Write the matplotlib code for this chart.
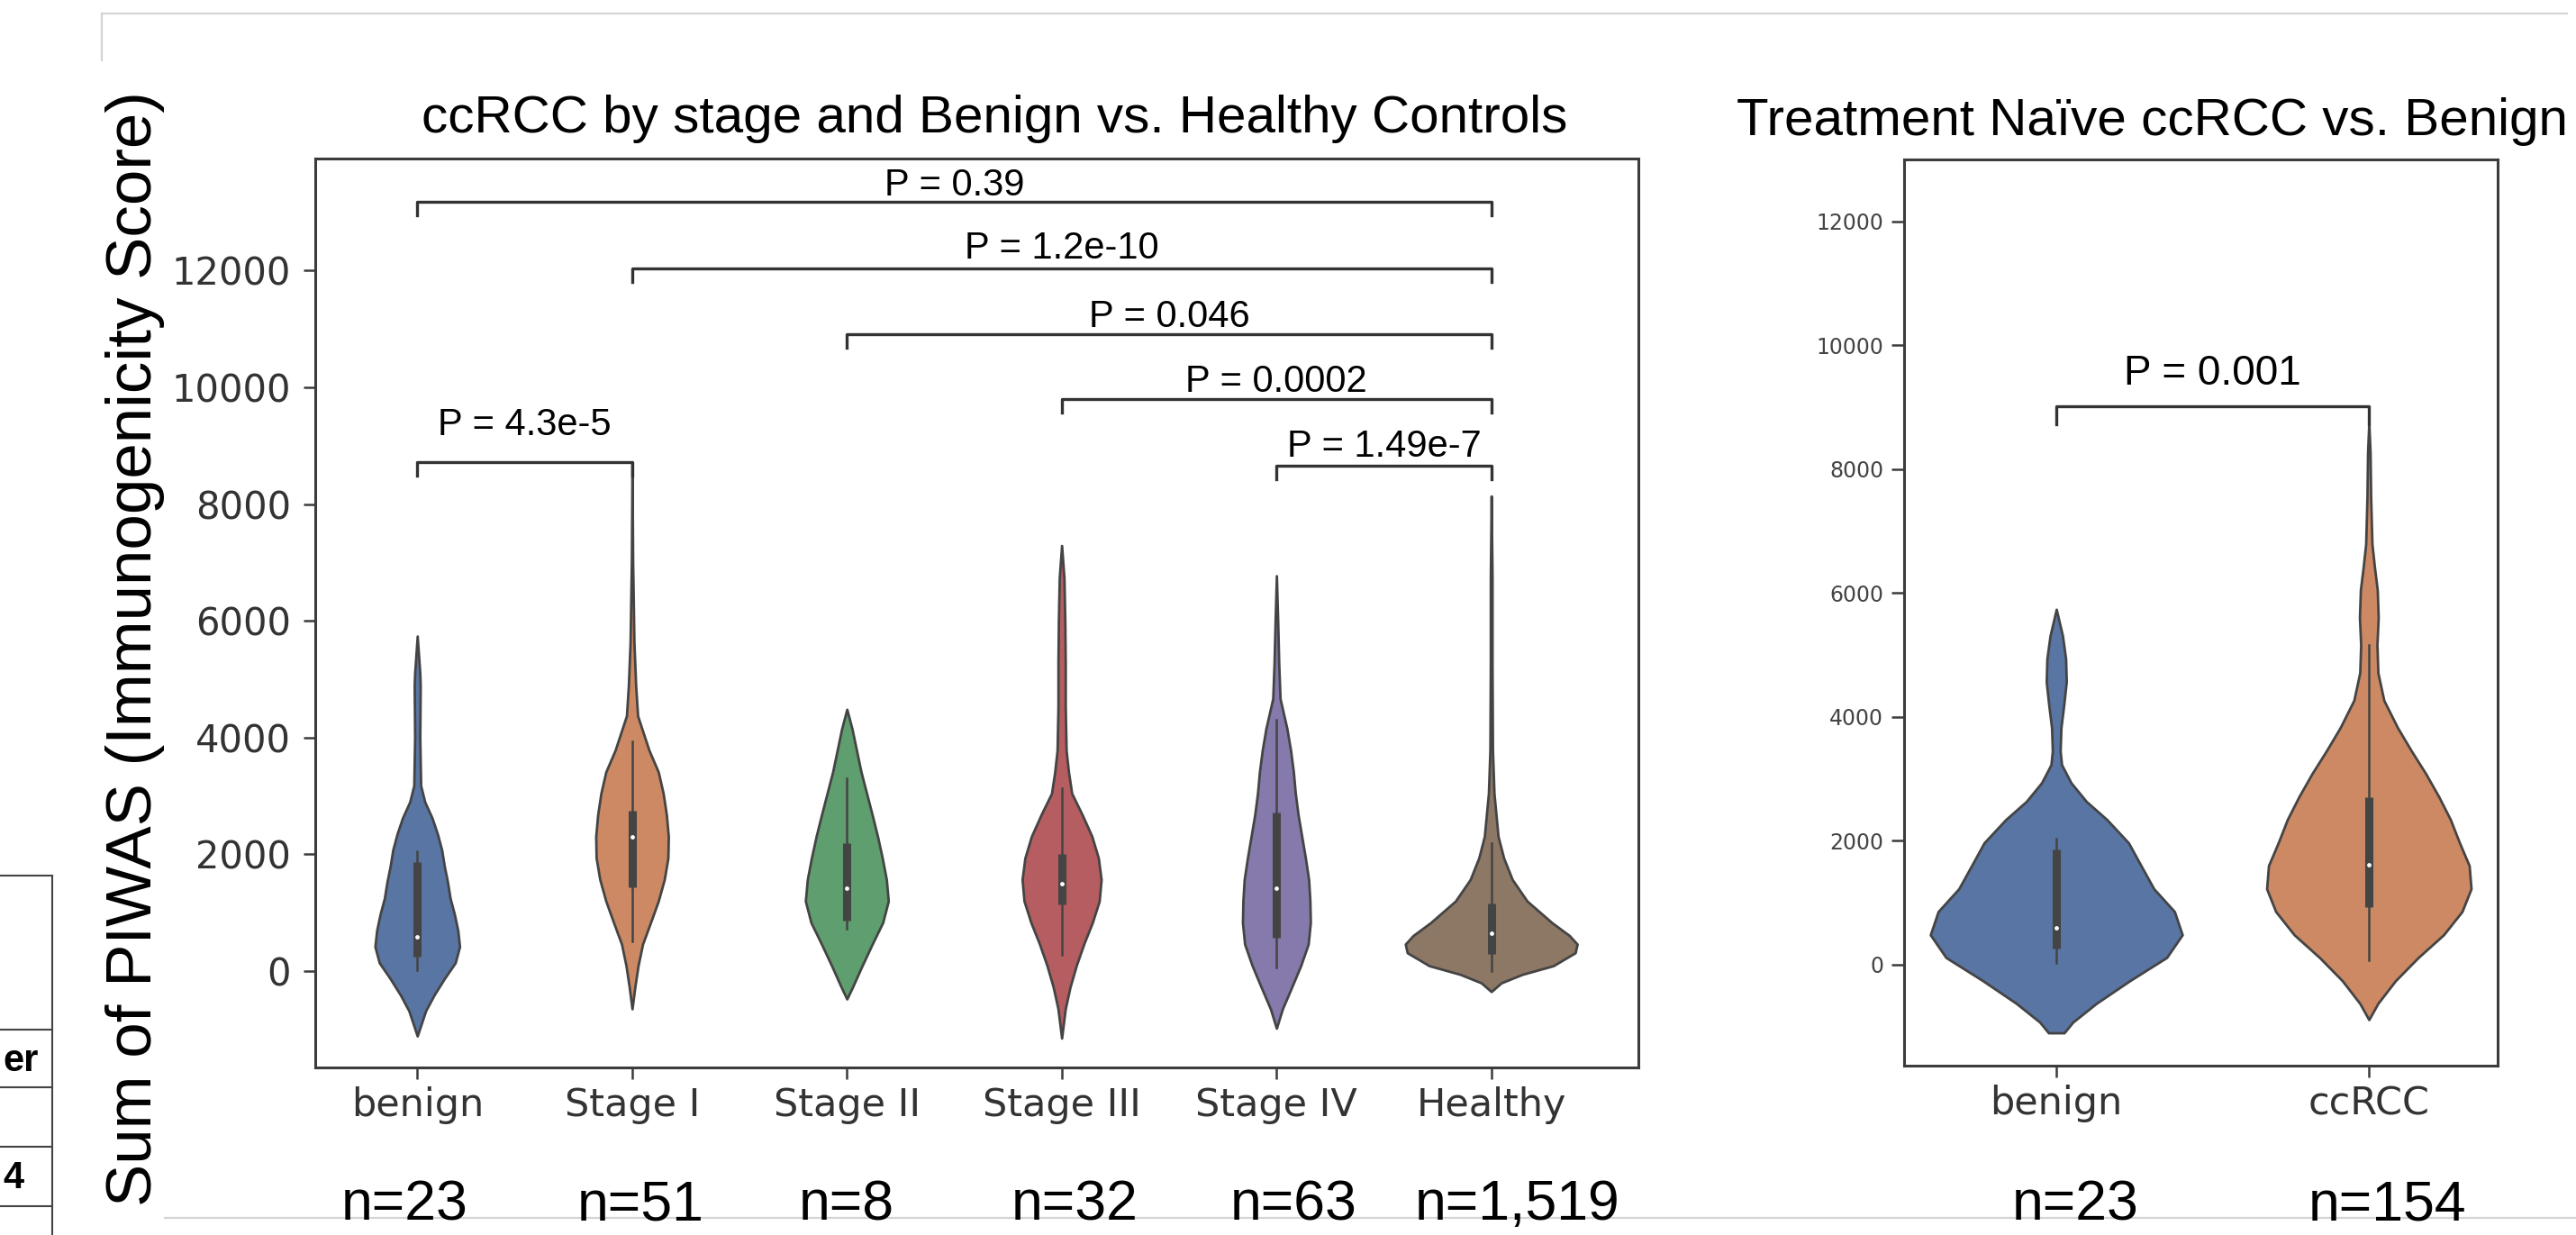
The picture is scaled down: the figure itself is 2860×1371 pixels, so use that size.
import matplotlib
matplotlib.use("Agg")
import matplotlib.pyplot as plt
from matplotlib.lines import Line2D
from matplotlib.transforms import blended_transform_factory
import numpy as np

# ----------------------
# DATA
# ----------------------
stage_groups = ["benign", "Stage I", "Stage II", "Stage III", "Stage IV", "Healthy"]
stage_n = ["n=23", "n=51", "n=8", "n=32", "n=63", "n=1,519"]
stage_colors = ["#5975a4", "#cc8963", "#5f9e6e", "#b55d60", "#857aab", "#8d7866"]

# violin outlines: (score, half width in category units)
benign_profile = [(5740, 0), (5107, 0.012), (4890, 0.014), (4003, 0.012), (3179, 0.016),
                  (2900, 0.035), (2623, 0.069), (2350, 0.094), (2074, 0.114), (1799, 0.126),
                  (1525, 0.141), (1250, 0.153), (974, 0.173), (694, 0.189), (421, 0.197),
                  (145, 0.177), (-129, 0.126), (-405, 0.079), (-680, 0.039), (-956, 0.014),
                  (-1111, 0)]
stage1_profile = [(8700, 0), (7000, 0.003), (5632, 0.009), (4891, 0.017), (4374, 0.026),
                  (3783, 0.079), (3414, 0.122), (3046, 0.145), (2677, 0.160), (2307, 0.169),
                  (1938, 0.167), (1569, 0.150), (1200, 0.122), (832, 0.086), (463, 0.049),
                  (93, 0.028), (-276, 0.013), (-646, 0)]
stage2_profile = [(4486, 0), (4153, 0.024), (3783, 0.045), (3414, 0.066), (3046, 0.092),
                  (2677, 0.118), (2307, 0.143), (1938, 0.165), (1569, 0.184), (1200, 0.193),
                  (832, 0.167), (463, 0.118), (93, 0.071), (-276, 0.026), (-477, 0)]
stage3_profile = [(7291, 0), (6737, 0.011), (5999, 0.015), (5261, 0.017), (4521, 0.017),
                  (3783, 0.021), (3414, 0.032), (3046, 0.047), (2677, 0.096), (2307, 0.141),
                  (1938, 0.171), (1569, 0.184), (1200, 0.175), (832, 0.143), (463, 0.103),
                  (93, 0.068), (-276, 0.039), (-646, 0.017), (-1148, 0)]
stage4_profile = [(6774, 0), (5999, 0.006), (5261, 0.011), (4670, 0.017), (4153, 0.049),
                  (3783, 0.066), (3414, 0.079), (3046, 0.088), (2677, 0.101), (2307, 0.118),
                  (1938, 0.135), (1569, 0.150), (1200, 0.156), (832, 0.158), (463, 0.148),
                  (93, 0.113), (-276, 0.071), (-646, 0.028), (-978, 0)]
healthy_profile = [(8140, 0), (6737, 0.004), (5261, 0.004), (3783, 0.006), (3046, 0.013),
                   (2307, 0.032), (1938, 0.058), (1569, 0.098), (1200, 0.167), (832, 0.282),
                   (609, 0.364), (463, 0.400), (315, 0.391), (93, 0.289), (-55, 0.145),
                   (-200, 0.047), (-350, 0)]
stage_profiles = [benign_profile, stage1_profile, stage2_profile,
                  stage3_profile, stage4_profile, healthy_profile]

# inner box: whisker low, q1, median, q3, whisker high
stage_whisk_lo = [18, 514, 721, 278, 56, 0]
stage_q1 = [255, 1435, 858, 1142, 571, 299]
stage_median = [586, 2307, 1421, 1497, 1421, 648]
stage_q3 = [1864, 2750, 2198, 2012, 2716, 1163]
stage_whisk_hi = [2052, 3935, 3305, 3134, 4310, 2197]

# significance brackets
stage_pairs = [(0, 5), (1, 5), (2, 5), (3, 5), (4, 5), (0, 1)]
stage_pvals = ["P = 0.39", "P = 1.2e-10", "P = 0.046", "P = 0.0002", "P = 1.49e-7", "P = 4.3e-5"]
stage_bracket_y = [13177, 12031, 10914, 9793, 8660, 8722]
stage_text_gap = [113, 179, 118, 128, 155, 460]

# right panel
tn_groups = ["benign", "ccRCC"]
tn_n = ["n=23", "n=154"]
tn_colors = ["#5975a4", "#cc8963"]
tn_benign_profile = [(5738, 0), (5309, 0.020), (4937, 0.030), (4567, 0.032), (4194, 0.024),
                     (3825, 0.015), (3452, 0.0125), (3229, 0.017), (2938, 0.047), (2636, 0.096),
                     (2342, 0.162), (1968, 0.231), (1600, 0.271), (1226, 0.312), (858, 0.378),
                     (483, 0.403), (116, 0.353), (-259, 0.235), (-625, 0.128), (-927, 0.053),
                     (-1100, 0.025), (-1100, 0)]
tn_ccrcc_profile = [(8750, 0), (8276, 0.004), (7534, 0.006), (6793, 0.010), (6420, 0.018),
                    (6050, 0.027), (5604, 0.030), (5164, 0.026), (4713, 0.029), (4268, 0.048),
                    (3825, 0.092), (3452, 0.136), (3084, 0.182), (2710, 0.224), (2342, 0.261),
                    (1968, 0.290), (1600, 0.321), (1226, 0.327), (858, 0.298), (483, 0.239),
                    (116, 0.158), (-259, 0.085), (-625, 0.029), (-887, 0)]
tn_profiles = [tn_benign_profile, tn_ccrcc_profile]
tn_whisk_lo = [23, 76]
tn_q1 = [262, 931]
tn_median = [596, 1619]
tn_q3 = [1856, 2710]
tn_whisk_hi = [2042, 5164]
tn_pval = "P = 0.001"
tn_bracket_y = 9018

# ----------------------
# STYLE
# ----------------------
W, H = 2860, 1371
ARIAL = "Liberation Sans"
EDGE = "#444444"
SPINE = "#3c3c3c"
plt.rcParams["font.family"] = "DejaVu Sans"


def px(x, y):
    # pixel position -> figure fraction
    return x / W, 1 - y / H


def draw_violin(ax, x, profile, color, lo, q1, med, q3, hi):
    ys = np.array([p[0] for p in profile], dtype=float)
    ws = np.array([p[1] for p in profile], dtype=float)
    ax.fill_betweenx(ys, x - ws, x + ws, facecolor=color, edgecolor=EDGE, lw=2.0, zorder=2)
    ax.plot([x, x], [lo, hi], color=EDGE, lw=1.8, zorder=3)
    ax.plot([x, x], [q1, q3], color=EDGE, lw=6.5, solid_capstyle="butt", zorder=3)
    ax.scatter([x], [med], s=12, color="white", zorder=4, linewidths=0)


def bracket(ax, x1, x2, y, leg, text, gap, fs):
    ax.plot([x1, x1, x2, x2], [y - leg, y, y, y - leg], color="#333333", lw=2.4, zorder=3)
    ax.text((x1 + x2) / 2, y + gap, text, ha="center", va="baseline",
            fontsize=fs, family=ARIAL, color="black")


def style_axes(ax):
    for s in ax.spines.values():
        s.set_color(SPINE)
        s.set_linewidth(2.2)


fig = plt.figure(figsize=(W / 100, H / 100), dpi=100)

# ----------------------
# LEFT PANEL
# ----------------------
ax1 = fig.add_axes([350 / W, 1 - 1185 / H, (1819 - 350) / W, (1185 - 176) / H])
for i, prof in enumerate(stage_profiles):
    draw_violin(ax1, i, prof, stage_colors[i], stage_whisk_lo[i], stage_q1[i],
                stage_median[i], stage_q3[i], stage_whisk_hi[i])
for (a, b), txt, yb, gap in zip(stage_pairs, stage_pvals, stage_bracket_y, stage_text_gap):
    bracket(ax1, a, b, yb, 230, txt, gap, 30)

ax1.set_xlim(-0.475, 5.685)
ax1.set_ylim(-1650, 13920)
ax1.set_yticks([0, 2000, 4000, 6000, 8000, 10000, 12000])
ax1.set_xticks(range(len(stage_groups)))
ax1.set_xticklabels(stage_groups)
ax1.tick_params(axis="y", labelsize=30, length=9.4, width=1.8, color=SPINE,
                labelcolor="#333333", pad=10)
ax1.tick_params(axis="x", labelsize=31, length=9.4, width=1.8, color=SPINE,
                labelcolor="#333333", pad=6)
style_axes(ax1)

n_offsets = [-0.06, 0.04, 0.0, 0.06, 0.08, 0.12]
tr1 = blended_transform_factory(ax1.transData, fig.transFigure)
for i, lab in enumerate(stage_n):
    ax1.text(i + n_offsets[i], 1 - 1338 / H, lab, transform=tr1, ha="center", va="center",
             fontsize=45, family=ARIAL, clip_on=False)

# ----------------------
# RIGHT PANEL
# ----------------------
ax2 = fig.add_axes([2114 / W, 1 - 1183 / H, (2773 - 2114) / W, (1183 - 177) / H])
for i, prof in enumerate(tn_profiles):
    draw_violin(ax2, i, prof, tn_colors[i], tn_whisk_lo[i], tn_q1[i],
                tn_median[i], tn_q3[i], tn_whisk_hi[i])
bracket(ax2, 0, 1, tn_bracket_y, 300, tn_pval, 350, 33)

ax2.set_xlim(-0.487, 1.412)
ax2.set_ylim(-1630, 13000)
ax2.set_yticks([0, 2000, 4000, 6000, 8000, 10000, 12000])
ax2.set_xticks(range(len(tn_groups)))
ax2.set_xticklabels(tn_groups)
ax2.tick_params(axis="y", labelsize=17, length=10, width=1.8, color=SPINE,
                labelcolor="#444444", pad=6.5)
ax2.tick_params(axis="x", labelsize=31, length=9.4, width=1.8, color=SPINE,
                labelcolor="#333333", pad=6)
style_axes(ax2)

tr2 = blended_transform_factory(ax2.transData, fig.transFigure)
for i, lab in enumerate(tn_n):
    ax2.text(i + 0.06, 1 - 1338 / H, lab, transform=tr2, ha="center", va="center",
             fontsize=45, family=ARIAL, clip_on=False)

# ----------------------
# TITLES / LABELS
# ----------------------
fig.text(*px(1104, 147), "ccRCC by stage and Benign vs. Healthy Controls",
         ha="center", va="baseline", fontsize=42, family=ARIAL)
fig.text(*px(2389, 150), "Treatment Naïve ccRCC vs. Benign",
         ha="center", va="baseline", fontsize=42, family=ARIAL)
fig.text(*px(150, 720), "Sum of PIWAS (Immunogenicity Score)", rotation=90,
         ha="center", va="center", fontsize=51, family=ARIAL)

# ----------------------
# SLIDE DECORATION (frame + cut-off table)
# ----------------------
frame_col = "#d4d4d4"
for (xa, ya), (xb, yb) in [((113, 15), (2850, 15)), ((113, 15), (113, 67)),
                           ((183, 1352), (2860, 1352))]:
    (fx0, fy0), (fx1, fy1) = px(xa, ya), px(xb, yb)
    fig.add_artist(Line2D([fx0, fx1], [fy0, fy1], transform=fig.transFigure,
                          color=frame_col, lw=1.6, zorder=0))

table_col = "#444444"
for yy in [972, 1143, 1207, 1273, 1339]:
    (fx0, fy), (fx1, _) = px(0, yy), px(58, yy)
    fig.add_artist(Line2D([fx0, fx1], [fy, fy], transform=fig.transFigure, color=table_col, lw=1.5))
(fx, fy0), (_, fy1) = px(58, 972), px(58, 1371)
fig.add_artist(Line2D([fx, fx], [fy0, fy1], transform=fig.transFigure, color=table_col, lw=1.5))
fig.text(*px(3, 1178), "er", ha="left", va="center", fontsize=30, fontweight="bold", family=ARIAL)
fig.text(*px(3, 1308), "4", ha="left", va="center", fontsize=30, fontweight="bold", family=ARIAL)

fig.savefig("out.png", dpi=100)
